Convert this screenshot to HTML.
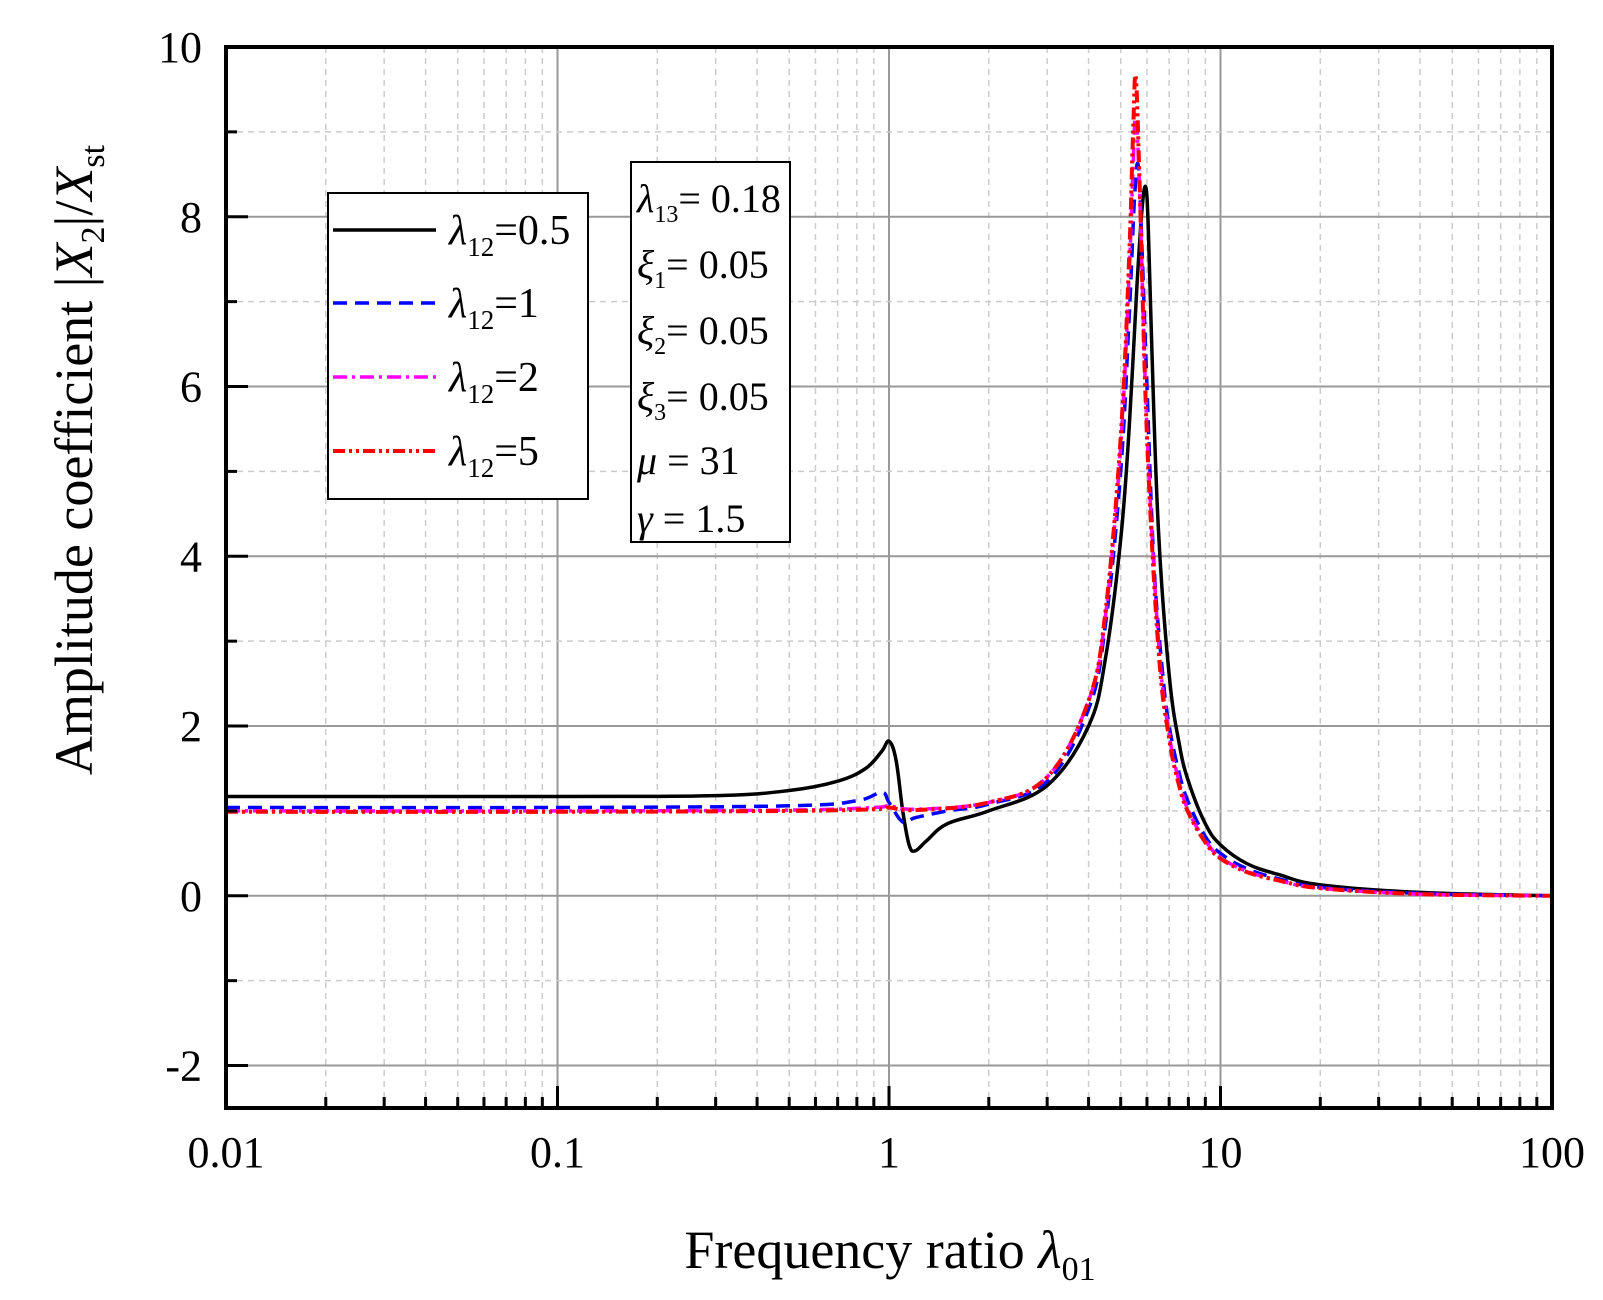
<!DOCTYPE html>
<html><head><meta charset="utf-8"><style>
html,body{margin:0;padding:0;background:#fff;}
svg{display:block;font-family:"Liberation Serif",serif;}
</style></head><body>
<svg id="chart" width="1603" height="1300" viewBox="0 0 1603 1300">
<g id="grid"></g>
<g id="series"></g>
<rect x="226" y="47" width="1326" height="1061" fill="none" stroke="#000" stroke-width="4"/>
<g id="ticks"></g>
<text x="890" y="1268" font-size="54" text-anchor="middle">Frequency ratio <tspan font-style="italic">λ</tspan><tspan font-size="34" dy="12">01</tspan></text>
<text transform="translate(92,460) rotate(-90)" font-size="54" text-anchor="middle">Amplitude coefficient |<tspan font-style="italic">X</tspan><tspan font-size="34" dy="12">2</tspan><tspan dy="-12">|/</tspan><tspan font-style="italic">X</tspan><tspan font-size="34" dy="12">st</tspan></text>
<g>
<rect x="328" y="193" width="260" height="306" fill="#fff" stroke="#000" stroke-width="2"/>
<g id="legend-items"></g>
</g>
<g>
<rect x="631" y="162" width="159" height="380" fill="#fff" stroke="#000" stroke-width="2"/>
<g font-size="40">
<text x="637" y="212"><tspan font-style="italic">λ</tspan><tspan font-size="24" dy="10">13</tspan><tspan dy="-10">= 0.18</tspan></text>
<text x="637" y="278"><tspan font-style="italic">ξ</tspan><tspan font-size="24" dy="10">1</tspan><tspan dy="-10">= 0.05</tspan></text>
<text x="637" y="344"><tspan font-style="italic">ξ</tspan><tspan font-size="24" dy="10">2</tspan><tspan dy="-10">= 0.05</tspan></text>
<text x="637" y="410"><tspan font-style="italic">ξ</tspan><tspan font-size="24" dy="10">3</tspan><tspan dy="-10">= 0.05</tspan></text>
<text x="637" y="474"><tspan font-style="italic">μ</tspan> = 31</text>
<text x="637" y="532"><tspan font-style="italic">γ</tspan> = 1.5</text>
</g></g>
</svg>
<script>
const xTickLabels = ["0.01","0.1","1","10","100"];
const yTickLabels = ["-2","0","2","4","6","8","10"];
const seriesNames = ["λ12=0.5","λ12=1","λ12=2","λ12=5"];
const xs0 = [0.01,0.1,0.3,0.5,0.7,0.85,0.95,1.0,1.05,1.1,1.15,1.2,1.3,1.5,2,3,4,4.5,5,5.3,5.6,5.8,5.95,6.05,6.2,6.5,7,7.5,8,9,10,12,15,20,40,100];
const ys0 = [1.17,1.17,1.18,1.24,1.35,1.5,1.7,1.82,1.6,1.0,0.6,0.53,0.65,0.85,1.0,1.3,2.0,2.8,4.2,5.5,7.2,8.1,8.35,7.9,6.5,4.3,2.6,1.8,1.35,0.85,0.6,0.38,0.25,0.13,0.04,0];
const xs1 = [0.01,0.1,0.5,0.8,0.95,1.0,1.1,1.2,1.5,2,3,4,4.5,5,5.3,5.5,5.65,5.8,6.0,6.3,6.7,7,7.5,8,9,10,12,15,20,40,100];
const ys1 = [1.04,1.04,1.06,1.12,1.22,1.1,0.87,0.92,1.0,1.08,1.35,2.2,3.2,5.0,6.8,8.2,8.6,7.6,6.0,3.9,2.6,2.0,1.45,1.1,0.7,0.5,0.32,0.2,0.1,0.03,0];
const xs2 = [0.01,0.1,0.5,0.9,1.0,1.2,2,3,4,4.5,5,5.3,5.45,5.55,5.7,6,6.5,7,7.5,8,9,10,12,15,20,40,100];
const ys2 = [1.0,1.0,1.01,1.04,1.06,1.02,1.1,1.4,2.3,3.3,5.3,7.3,8.6,9.2,8.3,5.5,3.0,1.9,1.35,1.0,0.65,0.45,0.29,0.18,0.09,0.02,0];
const xs3 = [0.01,0.1,0.5,0.9,1.0,1.2,2,3,4,4.5,5,5.3,5.45,5.55,5.7,6,6.5,7,7.5,8,9,10,12,15,20,40,100];
const ys3 = [0.99,0.99,1.0,1.02,1.04,1.01,1.1,1.4,2.3,3.35,5.4,7.5,9.0,9.65,8.4,5.4,2.9,1.85,1.3,0.98,0.63,0.44,0.28,0.18,0.09,0.02,0];

const L=226,R=1552,T=47,B=1108;
const xMin=-2,xMax=2,yMin=-2.5,yMax=10;
const sx=v=>L+(Math.log10(v)-xMin)/(xMax-xMin)*(R-L);
const sy=v=>B-(v-yMin)/(yMax-yMin)*(B-T);
const NS="http://www.w3.org/2000/svg";
function mk(tag,attrs,parent){const e=document.createElementNS(NS,tag);for(const k in attrs)e.setAttribute(k,attrs[k]);parent.appendChild(e);return e;}
const grid=document.getElementById('grid'),ticks=document.getElementById('ticks');
for(let d=-2;d<2;d++){for(let m=1;m<10;m++){const v=m*Math.pow(10,d);const x=sx(v);
 if(m===1){const g=mk('line',{x1:x,x2:x,y1:T,y2:B,stroke:'#999','stroke-width':2},grid);
 }
 else{const g=mk('line',{x1:x,x2:x,y1:T,y2:B,stroke:'#ccc','stroke-width':1.5,'stroke-dasharray':'6,5'},grid);
 
 const t=mk('line',{x1:x,x2:x,y1:B,y2:B-11,stroke:'#000','stroke-width':3},ticks);
 }
}}
xTickLabels.forEach((s,i)=>{const x=sx(parseFloat(s));
 const t=mk('line',{x1:x,x2:x,y1:B,y2:B-22,stroke:'#000','stroke-width':3},ticks);
 
 const tx=mk('text',{x:x,y:1167,'font-size':44,'text-anchor':'middle'},ticks);tx.textContent=s;
 });
for(let v=-1;v<10;v+=2){const y=sy(v);
 const g=mk('line',{x1:L,x2:R,y1:y,y2:y,stroke:'#ccc','stroke-width':1.5,'stroke-dasharray':'6,5'},grid);
 
 const t=mk('line',{x1:L,x2:L+11,y1:y,y2:y,stroke:'#000','stroke-width':3},ticks);
 }
yTickLabels.forEach(s=>{const v=parseFloat(s),y=sy(v);
 const g=mk('line',{x1:L,x2:R,y1:y,y2:y,stroke:'#999','stroke-width':2},grid);
 
 const t=mk('line',{x1:L,x2:L+22,y1:y,y2:y,stroke:'#000','stroke-width':3},ticks);
 
 const tx=mk('text',{x:202,y:y+15,'font-size':44,'text-anchor':'end'},ticks);tx.textContent=s;
 });
const styles=[{c:'#000',d:'',w:3.5},{c:'#0000ff',d:'14,8',w:3.5},{c:'#ff00ff',d:'14,5,3,5',w:3.5},{c:'#ff0000',d:'12,4,3,4,3,4',w:4}];
const data=[[xs0,ys0],[xs1,ys1],[xs2,ys2],[xs3,ys3]];
const sg=document.getElementById('series');
const lineNames=['line-lambda12-0-5','line-lambda12-1','line-lambda12-2','line-lambda12-5'];
function smoothPath(pts){let d='M'+pts[0][0].toFixed(1)+','+pts[0][1].toFixed(1);
 for(let i=0;i<pts.length-1;i++){const p0=pts[Math.max(i-1,0)],p1=pts[i],p2=pts[i+1],p3=pts[Math.min(i+2,pts.length-1)];
  const t=0.18;
  const c1=[p1[0]+(p2[0]-p0[0])*t,p1[1]+(p2[1]-p0[1])*t];
  const c2=[p2[0]-(p3[0]-p1[0])*t,p2[1]-(p3[1]-p1[1])*t];
  d+=' C'+c1[0].toFixed(1)+','+c1[1].toFixed(1)+' '+c2[0].toFixed(1)+','+c2[1].toFixed(1)+' '+p2[0].toFixed(1)+','+p2[1].toFixed(1);}
 return d;}
data.forEach((p,i)=>{const pts=p[0].map((v,j)=>[sx(v),sy(p[1][j])]);
 const a={d:smoothPath(pts),fill:'none',stroke:styles[i].c,'stroke-width':styles[i].w,'stroke-linejoin':'round'};
 if(styles[i].d)a['stroke-dasharray']=styles[i].d;
 const e=mk('path',a,sg);
 
 });
const li=document.getElementById('legend-items');
const legY=[230,303,377,451];
seriesNames.forEach((n,i)=>{const y=legY[i];
 const a={x1:333,x2:436,y1:y,y2:y,stroke:styles[i].c,'stroke-width':styles[i].w};
 if(styles[i].d)a['stroke-dasharray']=styles[i].d;
 const l=mk('line',a,li);
 
 const t=mk('text',{x:449,y:y+14,'font-size':42},li);
 
 const parts=n.split('=');
 const a1=mk('tspan',{'font-style':'italic'},t);a1.textContent='λ';
 const a2=mk('tspan',{'font-size':27,dy:12},t);a2.textContent='12';
 const a3=mk('tspan',{dy:-12},t);a3.textContent='='+parts[1];});
</script>
</body></html>
